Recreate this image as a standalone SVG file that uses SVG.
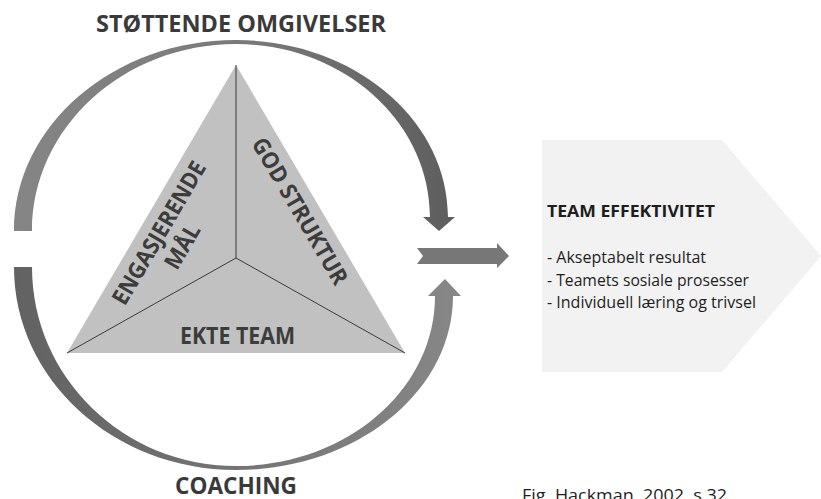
<svg xmlns="http://www.w3.org/2000/svg" width="821" height="499" viewBox="0 0 821 499">
  <defs>
    <linearGradient id="gradTop" x1="14" y1="0" x2="455" y2="0" gradientUnits="userSpaceOnUse">
      <stop offset="0" stop-color="#858585"/>
      <stop offset="0.5" stop-color="#7a7a7a"/>
      <stop offset="1" stop-color="#5e5e5e"/>
    </linearGradient>
    <linearGradient id="gradBottom" x1="14" y1="0" x2="461" y2="0" gradientUnits="userSpaceOnUse">
      <stop offset="0" stop-color="#626262"/>
      <stop offset="0.5" stop-color="#747474"/>
      <stop offset="1" stop-color="#878787"/>
    </linearGradient>
    <style>
      .heading { font-family: "Open Sans", "Liberation Sans", sans-serif; font-weight: bold; fill: #3a3a3a; }
      .tri { font-family: "Open Sans", "Liberation Sans", sans-serif; font-weight: bold; font-size: 23px; fill: #3c3c3c; }
      .body { font-family: "Open Sans", "Liberation Sans", sans-serif; font-size: 16px; fill: #1e1e1e; }
      .edge { stroke: #3a3a3a; stroke-width: 1; fill: none; }
    </style>
  </defs>

  <rect width="821" height="499" fill="#ffffff"/>

  <!-- Outcome panel -->
  <g id="team-effektivitet">
    <polygon points="542,140 722,140 821,256 722,372 542,372" fill="#f2f2f2"/>
    <text class="body" x="547" y="217" font-weight="bold" font-size="18px" textLength="168" lengthAdjust="spacingAndGlyphs">TEAM EFFEKTIVITET</text>
    <text class="body" x="547" y="263" textLength="159" lengthAdjust="spacingAndGlyphs">- Akseptabelt resultat</text>
    <text class="body" x="547" y="286" textLength="202" lengthAdjust="spacingAndGlyphs">- Teamets sosiale prosesser</text>
    <text class="body" x="547" y="308" textLength="209" lengthAdjust="spacingAndGlyphs">- Individuell læring og trivsel</text>
  </g>

  <!-- Central triangle with three sectors -->
  <g id="triangle">
    <polygon points="236,65 405,353 67,353" fill="#c1c1c1"/>
    <line class="edge" x1="236" y1="65" x2="236" y2="258"/>
    <line class="edge" x1="236" y1="258" x2="67" y2="353"/>
    <line class="edge" x1="236" y1="258" x2="405" y2="353"/>
  </g>

  <g id="engasjerende-maal" transform="translate(171,240) rotate(-59.6)">
    <text class="tri" x="0" y="-6" text-anchor="middle" textLength="162" lengthAdjust="spacingAndGlyphs">ENGASJERENDE</text>
    <text class="tri" x="0" y="21" text-anchor="middle" textLength="48" lengthAdjust="spacingAndGlyphs">MÅL</text>
  </g>

  <g id="god-struktur" transform="translate(300,211) rotate(59.6)">
    <text class="tri" x="0" y="8" text-anchor="middle" textLength="166" lengthAdjust="spacingAndGlyphs">GOD STRUKTUR</text>
  </g>

  <g id="ekte-team">
    <text class="tri" x="237.5" y="344" text-anchor="middle" textLength="115" lengthAdjust="spacingAndGlyphs">EKTE TEAM</text>
  </g>

  <!-- Curved arrows and the output arrow -->
  <g id="connectors">
    <path id="arc-top" fill="url(#gradTop)" d="M14,231 C14,125.6 113.5,40 236,40 C353,40 448,119 448,217 L455,217 L439,231 L423,217 L430,217 C430,121.5 343,44 236,44 C123.4,44 32,127.8 32,231 Z"/>
    <path id="arc-bottom" fill="url(#gradBottom)" d="M14,267 C14,379 113.5,470 236,470 C356,470 453,392 453,296 L461,296 L445,279 L428,296 L435,296 C435,390 346,466 236,466 C123.4,466 32,377 32,267 Z"/>
    <polygon id="arrow-out" points="417,248 497,248 497,243 509,256 497,268 497,264 417,264 423,256" fill="#777777"/>
  </g>

  <g id="stottende-omgivelser">
    <text class="heading" x="241" y="32" text-anchor="middle" font-size="24px" textLength="290" lengthAdjust="spacingAndGlyphs">STØTTENDE OMGIVELSER</text>
  </g>

  <g id="coaching">
    <text class="heading" x="236" y="494" text-anchor="middle" font-size="24px" textLength="122" lengthAdjust="spacingAndGlyphs">COACHING</text>
  </g>

  <g id="caption">
    <text class="body" x="522" y="501" fill="#333333" font-size="15px" textLength="205" lengthAdjust="spacingAndGlyphs">Fig. Hackman, 2002, s.32</text>
  </g>
</svg>
